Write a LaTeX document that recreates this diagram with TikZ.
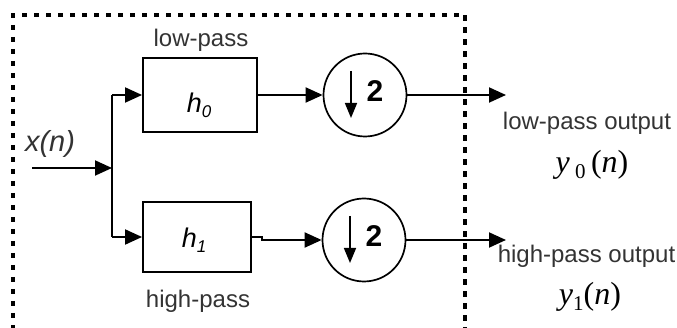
\documentclass[tikz,border=0pt]{standalone}
\usepackage{fontspec}
\setmainfont{Liberation Sans}
\newfontfamily\serifface{Liberation Serif}
\usetikzlibrary{arrows.meta,calc}

\begin{document}
\begin{tikzpicture}[x=1pt,y=-1pt,
  wire/.style={line width=1.9pt},
  arr/.style={wire,-{Triangle[length=17pt,width=15pt]}},
  filt/.style={draw,line width=1.9pt,inner sep=0pt},
  down/.style={circle,draw,line width=1.7pt,minimum size=83pt,inner sep=0pt},
  lbl/.style={font=\fontsize{24}{28}\selectfont,text=black!80,inner sep=0pt,anchor=base},
  sym/.style={inner sep=0pt,anchor=base},
  frame/.style={line width=3.2pt,dash pattern=on 5.5pt off 6.5pt}
]
\clip (0,0) rectangle (677,328);

% dashed enclosure of the analysis stage (open at the bottom)
\draw[frame] (465,345) -- (465,15) -- (13,15) -- (13,345);

% filters
\node[filt,minimum width=114pt,minimum height=74pt] (h0) at (200,95) {};
\node[filt,minimum width=108pt,minimum height=70pt] (h1) at (197,237) {};
\node[sym,font=\fontsize{27}{30}\selectfont\itshape] (h0t) at (199,113)
  {h\raisebox{-5pt}{\fontsize{17}{19}\selectfont 0}};
\node[sym,font=\fontsize{27}{30}\selectfont\itshape] (h1t) at (194,248)
  {h\raisebox{-5pt}{\fontsize{17}{19}\selectfont 1}};

% downsamplers
\node[down] (d0) at (365,95) {};
\node[down] (d1) at (364,240) {};
\coordinate (a0s) at ($(d0)+(-14,-24)$);
\coordinate (a0e) at ($(d0)+(-14,23)$);
\coordinate (a1s) at ($(d1)+(-14,-24)$);
\coordinate (a1e) at ($(d1)+(-14,23)$);
\draw[wire,line width=1.6pt,-{Triangle[length=15pt,width=12pt]}] (a0s) -- (a0e);
\draw[wire,line width=1.6pt,-{Triangle[length=15pt,width=12pt]}] (a1s) -- (a1e);
\node[sym,font=\fontsize{30}{33}\selectfont\bfseries] (n0) at ($(d0)+(10,7)$) {2};
\node[sym,font=\fontsize{30}{33}\selectfont\bfseries] (n1) at ($(d1)+(10,7)$) {2};

% input and branching
\coordinate (in) at (32,168);
\coordinate (jn) at (112,168);
\coordinate (jt) at (112,95);
\coordinate (jb) at (112,237);
\draw[arr] (in) -- (jn);
\draw[wire] (jt) -- (jb);
\draw[arr] (jt) -- (jt -| h0.west);
\draw[arr] (jb) -- (jb -| h1.west);

% filters to downsamplers
\draw[arr] (h0.east) -- (d0.west);
\draw[arr] (h1.east) -- ++(10,0) |- (d1.west);

% outputs
\coordinate (o0) at (506,95);
\coordinate (o1) at (506,240);
\draw[arr] (d0.east) -- (o0);
\draw[arr] (d1.east) -- (o1);

% labels
\node[lbl] (lp) at (201,47) {low-pass};
\node[lbl] (hp) at (198,308) {high-pass};
\node[sym,font=\fontsize{29}{32}\selectfont\itshape,text=black!80] (xn) at (50,152) {x(n)};
\node[lbl] (lpo) at (587,130) {low-pass output};
\node[lbl] (hpo) at (586.5,263) {high-pass output};
\node[sym,font=\serifface\fontsize{32}{36}\selectfont] (y0) at (592,173)
  {\textit{y}\,\raisebox{-6pt}{\fontsize{21}{23}\selectfont 0}\,(\textit{n})};
\node[sym,font=\serifface\fontsize{32}{36}\selectfont] (y1) at (590,305)
  {\textit{y}\raisebox{-6pt}{\fontsize{21}{23}\selectfont 1}(\textit{n})};
\end{tikzpicture}
\end{document}
